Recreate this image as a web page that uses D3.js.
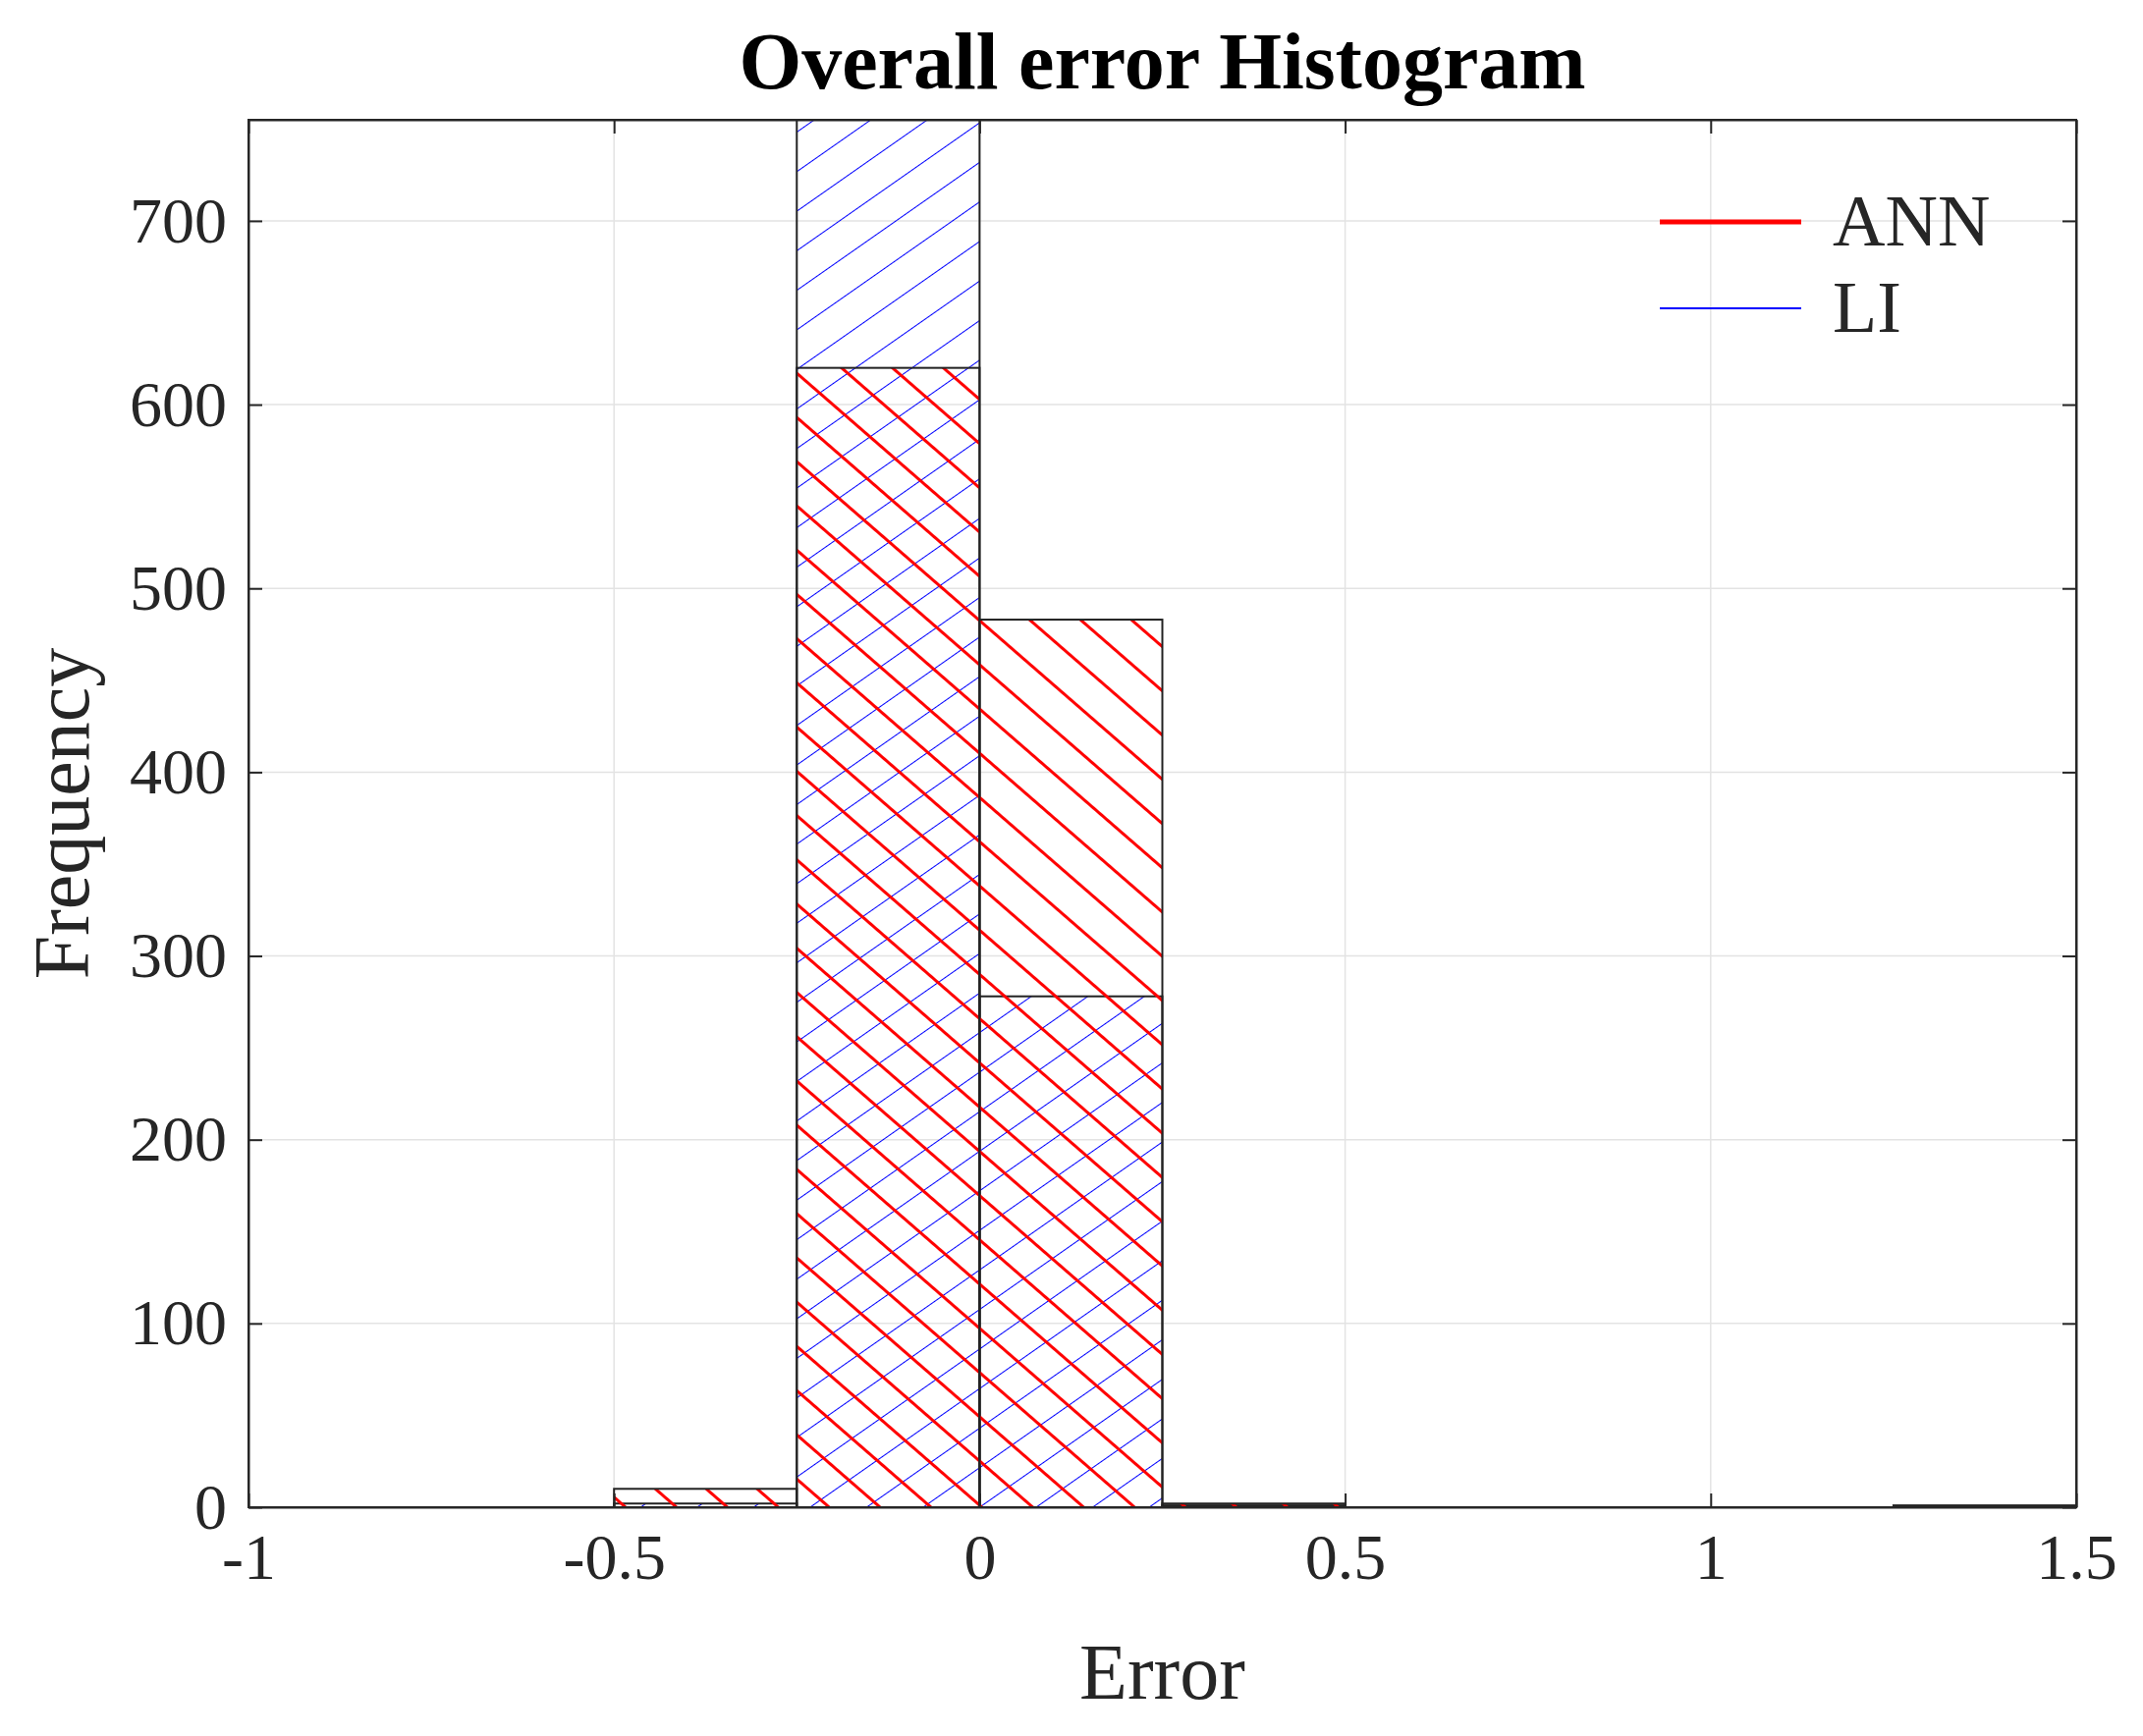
<!DOCTYPE html>
<html>
<head>
<meta charset="utf-8">
<script src="https://cdn.jsdelivr.net/npm/d3@7"></script>
<style>
  body { margin: 0; background: white; }
  text { font-family: "Liberation Serif", "Times New Roman", serif; fill: #262626; }
</style>
</head>
<body>
<svg id="chart" width="2182" height="1768"></svg>
<script>
// histogram bins (edges) and counts
const binEdges = [-1, -0.75, -0.5, -0.25, 0, 0.25, 0.5, 0.75, 1, 1.25, 1.5];
const annCounts = [0, 0, 10, 620, 483, 2, 0, 0, 0, 1];
const liCounts  = [0, 0, 2, 830, 278, 1, 0, 0, 0, 0];
const xTicks = [-1, -0.5, 0, 0.5, 1, 1.5];
const yTicks = [0, 100, 200, 300, 400, 500, 600, 700];

const width = 2182, height = 1768;
const margin = { top: 122, right: 68, bottom: 233, left: 253 };
const w = 2114 - margin.left;
const h = height - margin.top - margin.bottom;

const svg = d3.select('#chart');
const defs = svg.append('defs');

defs.append('clipPath').attr('id', 'clip')
  .append('rect').attr('width', w).attr('height', h);

// hatch patterns
const pRed = defs.append('pattern').attr('id', 'hatchRed')
  .attr('patternUnits', 'userSpaceOnUse').attr('width', 34).attr('height', 34)
  .attr('patternTransform', 'rotate(-49)');
pRed.append('line').attr('x1', 0).attr('y1', -2).attr('x2', 0).attr('y2', 36)
  .attr('stroke', '#ff0000').attr('stroke-width', 6);
const pBlue = defs.append('pattern').attr('id', 'hatchBlue')
  .attr('patternUnits', 'userSpaceOnUse').attr('width', 33).attr('height', 33)
  .attr('patternTransform', 'rotate(55)');
pBlue.append('line').attr('x1', 0).attr('y1', -2).attr('x2', 0).attr('y2', 35)
  .attr('stroke', '#0000ff').attr('stroke-width', 2);

const x = d3.scaleLinear().domain([-1, 1.5]).range([0, w]);
const y = d3.scaleLinear().domain([0, 755]).range([h, 0]);

const g = svg.append('g').attr('transform', `translate(${margin.left},${margin.top})`);

// grid
g.append('g').selectAll('line').data(xTicks).enter().append('line')
  .attr('x1', d => x(d)).attr('x2', d => x(d)).attr('y1', 0).attr('y2', h)
  .attr('stroke', '#e3e3e3').attr('stroke-width', 1.5);
g.append('g').selectAll('line').data(yTicks).enter().append('line')
  .attr('y1', d => y(d)).attr('y2', d => y(d)).attr('x1', 0).attr('x2', w)
  .attr('stroke', '#e3e3e3').attr('stroke-width', 1.5);

const bars = g.append('g').attr('clip-path', 'url(#clip)');
function drawSeries(counts, fill) {
  bars.append('g').selectAll('rect').data(counts).enter().append('rect')
    .attr('x', (d, i) => x(binEdges[i]))
    .attr('width', (d, i) => x(binEdges[i + 1]) - x(binEdges[i]))
    .attr('y', d => y(d))
    .attr('height', d => h - y(d))
    .attr('fill', fill)
    .attr('stroke', '#222').attr('stroke-width', 2);
}
drawSeries(liCounts, 'url(#hatchBlue)');
drawSeries(annCounts, 'url(#hatchRed)');

// axes
const fontSize = 66;
g.append('g').attr('transform', `translate(0,${h})`)
  .call(d3.axisBottom(x).tickValues(xTicks).tickSizeInner(-14).tickSizeOuter(0).tickPadding(26).tickFormat(d => d));
g.append('g')
  .call(d3.axisLeft(y).tickValues(yTicks).tickSizeInner(-14).tickSizeOuter(0).tickPadding(22));
g.append('g').call(d3.axisTop(x).tickValues(xTicks).tickSizeInner(-14).tickSizeOuter(0).tickFormat(''));
g.append('g').attr('transform', `translate(${w},0)`)
  .call(d3.axisRight(y).tickValues(yTicks).tickSizeInner(-14).tickSizeOuter(0).tickFormat(''));
g.selectAll('.domain, .tick line').attr('stroke', '#262626').attr('stroke-width', 2);
g.selectAll('.tick text').style('font-size', fontSize + 'px')
  .style('font-family', '"Liberation Serif", serif').attr('fill', '#262626');
g.append('rect').attr('width', w).attr('height', h).attr('fill', 'none')
  .attr('stroke', '#262626').attr('stroke-width', 2);

// title & labels
svg.append('text').attr('x', margin.left + w / 2).attr('y', 90)
  .attr('text-anchor', 'middle').style('font-size', '82px').style('font-weight', 'bold')
  .style('fill', '#000').text('Overall error Histogram');
svg.append('text').attr('x', margin.left + w / 2).attr('y', 1730)
  .attr('text-anchor', 'middle').style('font-size', '80px').text('Error');
svg.append('text').attr('transform', `translate(90,${margin.top + h / 2}) rotate(-90)`)
  .attr('text-anchor', 'middle').style('font-size', '80px').text('Frequency');

// legend
const legend = g.append('g').attr('transform', `translate(${w - 424},0)`);
const legendItems = [
  { name: 'ANN', color: '#ff0000', sw: 5, y: 104 },
  { name: 'LI', color: '#0000ff', sw: 2, y: 192 }
];
legendItems.forEach(it => {
  legend.append('line').attr('x1', 0).attr('x2', 144).attr('y1', it.y).attr('y2', it.y)
    .attr('stroke', it.color).attr('stroke-width', it.sw);
  legend.append('text').attr('x', 176).attr('y', it.y + 24)
    .style('font-size', '74px').text(it.name);
});
</script>
</body>
</html>
